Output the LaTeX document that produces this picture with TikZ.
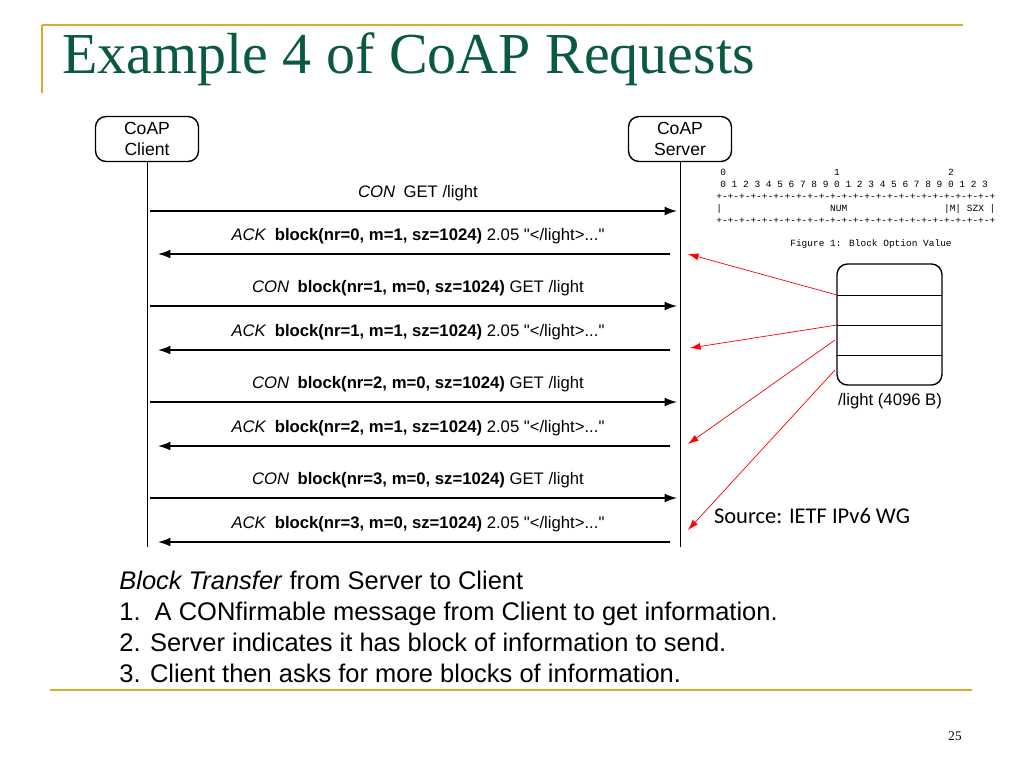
\documentclass[tikz,border=0pt]{standalone}
\usepackage{fontspec}
\setmainfont{Liberation Sans}
\newfontfamily\titlefont{Liberation Serif}
\newfontfamily\srcfont{Carlito}
\newfontfamily\monofont{Liberation Mono}
\definecolor{gold}{RGB}{218,170,40}
\definecolor{titlegreen}{RGB}{10,90,60}
\newcommand{\dq}{\textquotedbl}
\tikzset{
  party/.style={draw, rounded corners=6pt, thick, minimum width=2.06cm, minimum height=0.9cm, align=center, font=\fontsize{10}{11.5}\selectfont, inner sep=0pt},
  msg/.style={font=\fontsize{9.5}{11}\selectfont, inner sep=0pt},
  flow/.style={-{Latex[length=7pt,width=5pt]}, thick},
  point/.style={-{Latex[length=6pt,width=4pt]}, red, thin},
  fig/.style={font=\monofont\fontsize{5.4}{6}\selectfont, inner sep=0pt, anchor=west},
}
\usetikzlibrary{arrows.meta}
\begin{document}
\begin{tikzpicture}[x=0.02cm, y=-0.02cm]
    \useasboundingbox (0,0) rectangle (1024,768);
    % frame
    \draw [gold, thick] (42,25) -- (963,25);
    \draw [gold, thick] (42,25) -- (42,93);
    \draw [gold, thick] (50,690) -- (972,690);
    \node [anchor=base west, text=titlegreen, font=\titlefont\fontsize{33}{36}\selectfont, inner sep=0pt] (title) at (62,73) {Example 4 of CoAP Requests};
    % parties
    \node [party] (client) at (147,139) {CoAP\\Client};
    \node [party] (server) at (680,139) {CoAP\\Server};
    \coordinate (cEnd) at (147,547);
    \coordinate (sEnd) at (680,547);
    \draw (client) -- (cEnd);
    \draw (server) -- (sEnd);
    % messages
    \foreach \y/\txt in {211/{\textit{CON}\enspace GET /light},
                         306/{\textit{CON}\enspace\textbf{block(nr=1, m=0, sz=1024)} GET /light},
                         402/{\textit{CON}\enspace\textbf{block(nr=2, m=0, sz=1024)} GET /light},
                         498/{\textit{CON}\enspace\textbf{block(nr=3, m=0, sz=1024)} GET /light}} {
        \coordinate (a) at (150,\y);
        \coordinate (b) at (677,\y);
        \draw [flow] (a) -- (b);
        \node [msg, anchor=base] at (418,\y-14) {\txt};
    }
    \foreach \y/\n/\m in {254/0/1, 350/1/1, 446/2/1, 542/3/0} {
        \coordinate (a) at (670,\y);
        \coordinate (b) at (158,\y);
        \draw [flow] (a) -- (b);
        \node [msg, anchor=base] at (418,\y-14) {\textit{ACK}\enspace\textbf{block(nr=\n, m=\m, sz=1024)} 2.05 \dq</light>...\dq};
    }
    % block option value
    \node [fig] (f0) at (720,172) {0\ \ \ \ \ \ \ \ \ \ \ \ \ \ \ \ \ \ \ 1\ \ \ \ \ \ \ \ \ \ \ \ \ \ \ \ \ \ \ 2};
    \node [fig] (f1) at (720,184) {0 1 2 3 4 5 6 7 8 9 0 1 2 3 4 5 6 7 8 9 0 1 2 3};
    \node [fig] (f2) at (716,197) {+-+-+-+-+-+-+-+-+-+-+-+-+-+-+-+-+-+-+-+-+-+-+-+-+};
    \node [fig] (f3) at (716,209) {|\ \ \ \ \ \ \ \ \ \ \ \ \ \ \ \ \ \ \ NUM\ \ \ \ \ \ \ \ \ \ \ \ \ \ \ \ \ |M| SZX |};
    \node [fig] (f4) at (716,221) {+-+-+-+-+-+-+-+-+-+-+-+-+-+-+-+-+-+-+-+-+-+-+-+-+};
    \node [fig] (f5) at (790,244) {Figure 1: Block Option Value};
    % resource
    \draw [thick, rounded corners=6pt] (837,264) rectangle (942,385);
    \foreach \y in {295,325,355} \draw (837,\y) -- (942,\y);
    \node [msg] (res) at (890,401) {/light (4096 B)};
    \coordinate (r1) at (837,295);
    \coordinate (r2) at (837,325);
    \coordinate (r3) at (835,340);
    \coordinate (r4) at (835,370);
    \coordinate (t1) at (688,254);
    \coordinate (t2) at (690,348);
    \coordinate (t3) at (688,444);
    \coordinate (t4) at (688,530);
    \draw [point] (r1) -- (t1);
    \draw [point] (r2) -- (t2);
    \draw [point] (r3) -- (t3);
    \draw [point] (r4) -- (t4);
    \node [font=\srcfont\fontsize{12.8}{14}\selectfont, inner sep=0pt] (src) at (812,516) {Source: IETF IPv6 WG};
    % notes
    \node [anchor=north west, align=left, font=\fontsize{14.5}{17.6}\selectfont, inner sep=0pt] (notes) at (119,571) {\textit{Block Transfer} from Server to Client\\1.\ \ A CONfirmable message from Client to get information.\\2. Server indicates it has block of information to send.\\3. Client then asks for more blocks of information.};
    \node [font=\titlefont\fontsize{7.5}{9}\selectfont, inner sep=0pt] (page) at (955,736) {25};
\end{tikzpicture}
\end{document}
